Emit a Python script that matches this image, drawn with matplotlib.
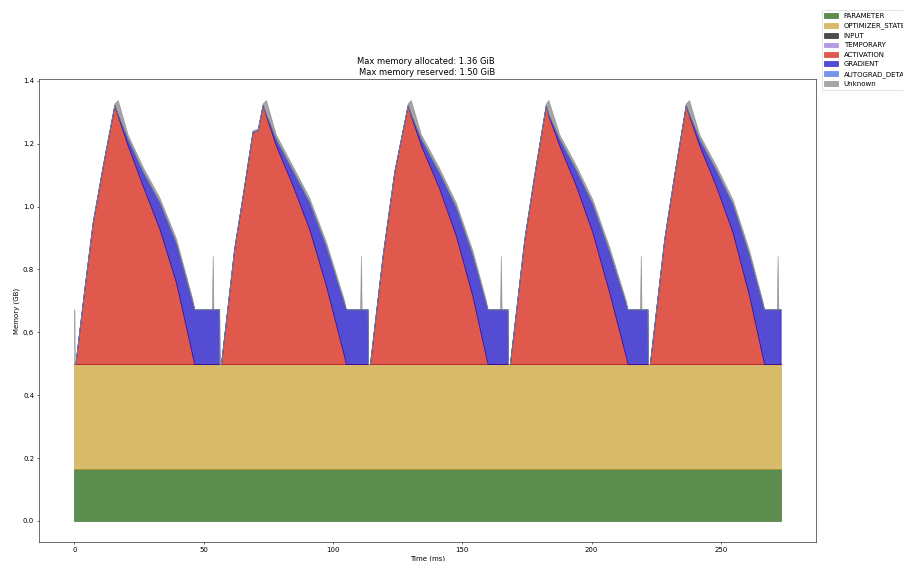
import numpy as np
import matplotlib
matplotlib.use("Agg")
import matplotlib.pyplot as plt

# ---------------- data (GB vs ms) ----------------
categories = ["PARAMETER", "OPTIMIZER_STATE", "INPUT", "TEMPORARY",
              "ACTIVATION", "GRADIENT", "AUTOGRAD_DETAIL", "Unknown"]
colors = ["#195b05", "#c79f2d", "black", "mediumpurple",
          "#d31302", "#0b00c0", "royalblue", "grey"]

parameter_gb = 0.166
optimizer_state_gb = 0.333

c1_t    = [0.0, 0.15, 0.4, 3.9, 7.1, 11.0, 15.5, 16.8, 20.6, 26.4, 32.9, 39.3, 45.7, 46.4, 53.2, 53.5, 53.8, 56.0, 56.1]
c1_act  = [0, 0, 0, .24, .45, .63, .824, .79, .696, .568, .43, .26, .025, 0, 0, 0, 0, 0, 0]
c1_grad = [0, 0, 0, 0, 0, 0, 0, .005, .02, .045, .085, .125, .17, .174, .174, .174, .174, .174, 0]
c1_unk  = [.174, 0, 0, .005, .005, .005, .005, .045, .015, .015, .015, .015, .01, 0, 0, .171, 0, 0, 0]

c2_t    = [56.7, 61.8, 65.1, 68.9, 70.9, 72.8, 74.1, 77.9, 84.4, 90.8, 97.3, 104.3, 105.0, 110.5, 110.8, 111.1, 113.4, 113.5]
c2_act  = [0, .366, .536, .739, .744, .824, .79, .696, .568, .43, .249, .025, 0, 0, 0, 0, 0, 0]
c2_grad = [0, 0, 0, 0, 0, 0, .005, .02, .047, .085, .125, .168, .174, .174, .174, .174, .174, 0]
c2_unk  = [0, .005, .005, .005, .005, .005, .045, .015, .015, .015, .015, .01, 0, 0, .171, 0, 0, 0]

c3_t    = [114.3, 119.2, 123.7, 128.9, 130.1, 134.0, 141.1, 147.5, 153.9, 159.1, 159.8, 164.6, 164.9, 165.2, 167.5, 167.6]
c3_act  = [0, .345, .611, .824, .79, .696, .558, .409, .217, .025, 0, 0, 0, 0, 0, 0]
c3_grad = [0, 0, 0, 0, .005, .02, .05, .09, .13, .168, .174, .174, .174, .174, .174, 0]
c3_unk  = [0, .005, .005, .005, .045, .015, .015, .015, .015, .01, 0, 0, .171, 0, 0, 0]

c4_t    = [168.4, 174.0, 177.8, 182.3, 183.3, 187.5, 193.9, 200.3, 206.8, 213.2, 213.9, 218.7, 219.0, 219.3, 221.6, 221.7]
c4_act  = [0, .398, .60, .824, .79, .696, .568, .419, .228, .025, 0, 0, 0, 0, 0, 0]
c4_grad = [0, 0, 0, 0, .005, .02, .05, .09, .13, .168, .174, .174, .174, .174, .174, 0]
c4_unk  = [0, .005, .005, .005, .045, .015, .015, .015, .015, .01, 0, 0, .171, 0, 0, 0]

c5_t    = [222.5, 228.1, 231.9, 236.4, 237.7, 241.6, 248.0, 254.5, 260.9, 266.0, 266.7, 271.6, 271.9, 272.2, 273.1]
c5_act  = [0, .398, .60, .824, .79, .696, .568, .419, .217, .025, 0, 0, 0, 0, 0]
c5_grad = [0, 0, 0, 0, .005, .02, .05, .09, .13, .168, .174, .174, .174, .174, .174]
c5_unk  = [0, .005, .005, .005, .045, .015, .015, .015, .015, .01, 0, 0, .171, 0, 0]

max_allocated_gib = 1.36
max_reserved_gib = 1.50

# ---------------- assemble ----------------
times = np.array(c1_t + c2_t + c3_t + c4_t + c5_t)
activation = np.array(c1_act + c2_act + c3_act + c4_act + c5_act)
gradient = np.array(c1_grad + c2_grad + c3_grad + c4_grad + c5_grad)
unknown = np.array(c1_unk + c2_unk + c3_unk + c4_unk + c5_unk)
n = len(times)
parameter = np.full(n, parameter_gb)
optimizer_state = np.full(n, optimizer_state_gb)
inputs = np.zeros(n)
temporary = np.zeros(n)
autograd_detail = np.zeros(n)

sizes = np.stack([parameter, optimizer_state, inputs, temporary,
                  activation, gradient, autograd_detail, unknown], axis=1)
stacked = np.concatenate([np.zeros((n, 1)), np.cumsum(sizes, axis=1)], axis=1)

# ---------------- plot ----------------
DPI = 50
fig = plt.figure(figsize=(904 / DPI, 561 / DPI), dpi=DPI)
ax = fig.add_axes([39 / 904, 19 / 561, 777 / 904, 463 / 561])

for i, (cat, col) in enumerate(zip(categories, colors)):
    ax.fill_between(times, stacked[:, i], stacked[:, i + 1], color=col, alpha=0.7)

fig.legend(categories, loc="upper right", bbox_to_anchor=(917 / 904, 554 / 561))
ax.set_xlabel("Time (ms)")
ax.set_ylabel("Memory (GB)")
ax.set_title(f"Max memory allocated: {max_allocated_gib:.2f} GiB \n"
             f"Max memory reserved: {max_reserved_gib:.2f} GiB")

fig.savefig("out.png", dpi=DPI)
